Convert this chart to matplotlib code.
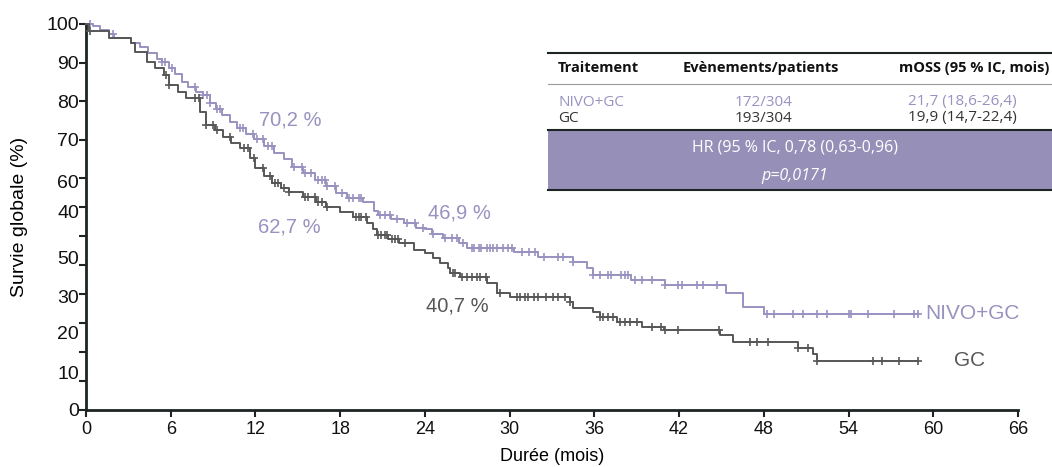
import matplotlib

matplotlib.use("Agg")
import matplotlib.pyplot as plt
import numpy as np

W, H = 1052, 467

# Kaplan-Meier steps: (time in months, survival % after the drop)
nivo_t = [0, 0.5, 1.0, 1.6, 2.0, 3.2, 3.8, 4.4, 5.0, 5.4, 5.9, 6.3, 6.8, 7.2, 7.8,
          8.3, 8.8, 9.2, 9.6, 10.2, 10.7, 11.3, 11.9, 12.6, 13.3, 14.0, 14.6, 15.4,
          16.2, 17.0, 17.7, 18.5, 19.6, 20.4, 20.7, 21.6, 22.5, 23.4, 24.0, 24.5,
          25.3, 26.4, 27.0, 30.3, 32.0, 34.5, 35.5, 35.9, 38.6, 41.0, 45.3, 46.5,
          48.0]
nivo_s = [100, 99.5, 98.5, 97.5, 96.5, 95, 94, 92.5, 91, 90.2, 88.5, 87, 85, 83.8,
          82.5, 81.5, 79.5, 78, 76.5, 74.5, 73, 71.5, 70.2, 68.5, 66.5, 65, 63,
          61.5, 59.6, 58, 56.2, 55, 54, 51.5, 50.5, 49.5, 48.4, 47.2, 46.9, 45.5,
          44.5, 43.2, 41.9, 41, 39.7, 38.4, 36.7, 35, 33.7, 32.4, 30.2, 26.8, 25.0]
nivo_end = 58.9
nivo_cens = [0.3, 1.9, 5.4, 5.6, 6.1, 7.7, 8.3, 8.6, 8.8, 9.3, 9.5, 10.9, 11.1, 11.8,
             12.1, 12.5, 12.9, 13.2, 14.7, 15.3, 15.5, 15.9, 16.4, 16.7, 16.9, 17.1,
             17.6, 18.1, 18.6, 18.9, 19.3, 19.5, 20.8, 21.2, 21.5, 22.0, 22.7, 23.3,
             23.9, 24.6, 25.4, 25.9, 26.3, 26.7, 27.3, 27.5, 27.8, 28.0, 28.4, 28.6,
             28.8, 29.1, 29.5, 29.9, 30.2, 30.9, 31.4, 31.8, 32.4, 33.4, 33.8, 34.5,
             35.9, 36.4, 37.0, 37.2, 37.9, 38.2, 38.4, 38.9, 39.4, 40.1, 41.0, 41.9,
             42.2, 43.3, 43.7, 44.7, 48.2, 48.7, 50.1, 50.8, 51.8, 52.5, 54.0, 54.2,
             55.4, 57.2, 58.6, 58.9]

gc_t = [0, 0.2, 1.6, 3.2, 3.5, 4.3, 4.9, 5.5, 5.9, 6.5, 7.1, 8.1, 8.5, 9.1, 9.7,
        10.3, 10.9, 11.6, 12.0, 12.6, 13.2, 13.8, 14.4, 15.4, 16.3, 17.0, 18.0,
        18.9, 19.9, 20.3, 20.6, 21.4, 22.2, 23.2, 24.0, 24.6, 25.1, 25.6, 25.8,
        26.5, 28.4, 29.1, 30.0, 34.3, 34.5, 35.9, 36.4, 37.6, 39.4, 40.9, 44.9,
        45.8, 50.4, 51.5, 51.8]
gc_s = [100, 98.2, 96.5, 95, 92.8, 90.2, 88.5, 86.8, 84.2, 82.5, 80.8, 77.3, 73.8,
        72.5, 70.8, 69.3, 67.8, 65.2, 62.7, 60.5, 58.8, 57.5, 56.6, 55.2, 54, 52.7,
        51.3, 50.1, 48.4, 46.8, 45.3, 44.3, 43.2, 41.5, 40.7, 39.3, 38, 36.8, 35.4,
        34.5, 32.8, 30.2, 29.4, 28.1, 26.3, 25.5, 24.2, 22.9, 21.6, 20.7, 19.4,
        17.7, 16, 14.5, 12.8]
gc_end = 58.9
gc_cens = [0.3, 5.7, 5.9, 7.7, 8.0, 8.5, 9.0, 9.3, 10.2, 11.2, 11.5, 11.9, 12.5,
           13.0, 13.4, 13.6, 14.0, 14.4, 15.5, 15.7, 16.2, 16.4, 16.7, 17.1, 19.1,
           19.3, 19.5, 19.8, 20.7, 20.9, 21.2, 21.3, 21.7, 21.9, 22.1, 22.6, 26.0,
           26.1, 26.6, 27.0, 27.3, 27.7, 27.9, 28.3, 29.3, 30.5, 30.7, 31.1, 31.3,
           31.7, 32.0, 32.6, 33.1, 33.4, 33.9, 34.3, 36.4, 36.6, 37.0, 37.3, 37.8,
           38.2, 38.5, 39.0, 40.1, 40.7, 41.0, 41.9, 44.8, 47.0, 47.5, 48.3, 50.4,
           51.1, 51.8, 55.7, 56.4, 57.6, 58.9]

x_ticks = list(range(0, 67, 6))
y_tick_marks = [100, 90, 80, 70, 60, 52.5, 45, 37.5, 30, 22.5, 15, 7.5, 0]
y_label_text = ["100", "90", "80", "70", "60", "40", "50", "30", "20", "10", "0"]
y_label_pos = [100, 90, 80, 70, 59.3, 51.4, 39.4, 29.5, 20.0, 9.8, 0]

table_header = ["Traitement", "Evènements/patients", "mOSS (95 % IC, mois)"]
table_rows = [["NIVO+GC", "172/304", "21,7 (18,6-26,4)"],
              ["GC", "193/304", "19,9 (14,7-22,4)"]]
hr_text = "HR (95 % IC, 0,78 (0,63-0,96)"
p_text = "p=0,0171"

PURPLE = "#9792c0"
GREY = "#575757"
BOX = "#9690b9"
DARK = "#1c2424"


def fx(px):
    return px / W


def fy(py):
    return 1 - py / H


def step_value(t, s, at):
    i = np.searchsorted(np.asarray(t), at, side="right") - 1
    return np.asarray(s)[i]


fig = plt.figure(figsize=(W / 100, H / 100), dpi=100)
ax = fig.add_axes([fx(86), fy(410), fx(1018) - fx(86), fy(24) - fy(410)])
ax.set_xlim(0, 66)
ax.set_ylim(0, 100)

for t, s, end, cens, col in [(nivo_t, nivo_s, nivo_end, nivo_cens, PURPLE),
                             (gc_t, gc_s, gc_end, gc_cens, GREY)]:
    tt = list(t) + [end]
    ss = list(s) + [s[-1]]
    ax.step(tt, ss, where="post", color=col, lw=1.4, clip_on=False, zorder=3)
    ax.plot(cens, step_value(t, s, cens), ls="none", marker="+", ms=6,
            mew=1.2, color=col, clip_on=False, zorder=3)

for sp in ["top", "right"]:
    ax.spines[sp].set_visible(False)
for sp in ["left", "bottom"]:
    ax.spines[sp].set_linewidth(2)
    ax.spines[sp].set_color(DARK)

ax.set_xticks(x_ticks)
ax.set_xticklabels([str(v) for v in x_ticks], fontsize=13, family="Liberation Sans")
ax.tick_params(axis="x", length=5, width=1.5, color=DARK, pad=3, labelcolor="#111111")

ax.yaxis.remove_overlapping_locs = False
ax.set_yticks(y_tick_marks)
ax.set_yticklabels([])
ax.set_yticks(y_label_pos, minor=True)
ax.set_yticklabels(y_label_text, minor=True, fontsize=14, family="Liberation Sans",
                   color="#111111")
ax.tick_params(axis="y", which="major", length=5, width=1.5, color=DARK)
ax.tick_params(axis="y", which="minor", length=0, pad=5)

ax.set_xlabel("Durée (mois)", fontsize=13, family="Liberation Sans", labelpad=7)
ax.set_ylabel("Survie globale (%)", fontsize=14, family="Liberation Sans", labelpad=13)

# landmark annotations
ann = dict(fontsize=14.5, family="Liberation Sans", va="center", ha="left")
ax.text(12.25, 75.1, "70,2 %", color=PURPLE, **ann)
ax.text(12.2, 47.4, "62,7 %", color=PURPLE, **ann)
ax.text(24.2, 51.0, "46,9 %", color=PURPLE, **ann)
ax.text(24.1, 26.9, "40,7 %", color=GREY, **ann)

ax.text(nivo_end + 0.5, nivo_s[-1], "NIVO+GC", color=PURPLE, fontsize=15,
        family="Liberation Sans", va="center", ha="left")
ax.text(gc_end + 2.6, gc_s[-1], "GC", color=GREY, fontsize=15,
        family="Liberation Sans", va="center", ha="left")

# table in the upper right
L, R = 548, 1052
fig.add_artist(plt.Line2D([fx(L), fx(R)], [fy(53), fy(53)], color=DARK, lw=1.5))
fig.add_artist(plt.Line2D([fx(L), fx(R)], [fy(84), fy(84)], color="#9a9a9a", lw=0.8))
fig.add_artist(plt.Rectangle((fx(L), fy(190)), fx(R) - fx(L), fy(130) - fy(190),
                             facecolor=BOX, edgecolor="none"))
fig.add_artist(plt.Line2D([fx(L), fx(R)], [fy(130), fy(130)], color=DARK, lw=1.5))
fig.add_artist(plt.Line2D([fx(L), fx(R)], [fy(190), fy(190)], color=DARK, lw=1.5))

hf = dict(fontsize=10.5, family="Open Sans", va="center", weight="bold", color="#111111")
fig.text(fx(558), fy(68), table_header[0], ha="left", **hf)
fig.text(fx(761), fy(68), table_header[1], ha="center", **hf)
fig.text(fx(1049), fy(68), table_header[2], ha="right", **hf)
rf = dict(fontsize=11, family="Open Sans", va="center")
for row, y, col in [(table_rows[0], 102, PURPLE), (table_rows[1], 118, "#333333")]:
    fig.text(fx(558), fy(y), row[0], ha="left", color=col, **rf)
    fig.text(fx(764), fy(y), row[1], ha="center", color=col, **rf)
    fig.text(fx(1017), fy(y), row[2], ha="right", color=col, **rf)
bf = dict(fontsize=11.5, family="Open Sans", va="center", ha="center", color="white")
fig.text(fx(795), fy(148), hr_text, **bf)
fig.text(fx(795), fy(176), p_text, style="italic", **bf)

fig.savefig("out.png", dpi=100)
